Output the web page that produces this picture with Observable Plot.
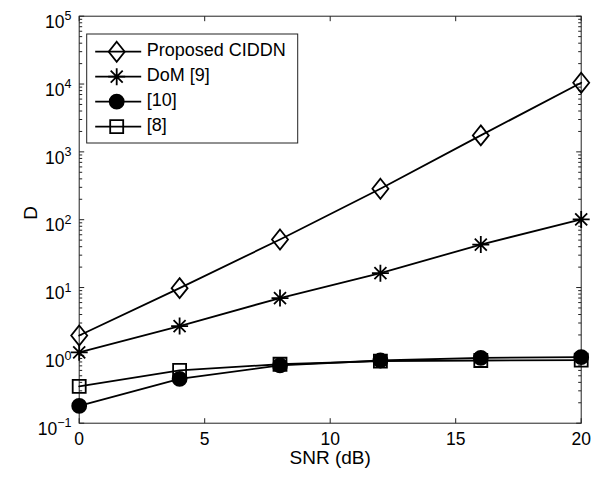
<!DOCTYPE html>
<html><head><meta charset="utf-8">
<script src="https://cdn.jsdelivr.net/npm/d3@7"></script>
<script src="https://cdn.jsdelivr.net/npm/@observablehq/plot@0.6"></script>
<style>
body{margin:0;background:#fff}
#chart svg{font-family:"Liberation Sans",Arial,Helvetica,sans-serif;background:#fff}
</style>
</head><body><div id="chart"></div>
<script>
// ---- data ----
const snr = [0, 4, 8, 12, 16, 20];
const proposed = [1.96, 9.8, 51, 286, 1750, 10450];
const dom = [1.11, 2.7, 7.0, 16.3, 43, 101];
const ref10 = [0.18, 0.45, 0.71, 0.84, 0.92, 0.94];
const ref8 = [0.35, 0.60, 0.74, 0.82, 0.84, 0.85];
const seriesNames = ["Proposed CIDDN", "DoM [9]", "[10]", "[8]"];
const xTicks = [0, 5, 10, 15, 20];
const yTickExps = [-1, 0, 1, 2, 3, 4, 5];
const minorMult = [2, 3, 4, 5, 6, 7, 8, 9];
const xLabel = "SNR (dB)";
const yLabel = "D";

// ---- symbols ----
const symDiamond = {draw(c){c.moveTo(0,-10);c.lineTo(8,0);c.lineTo(0,10);c.lineTo(-8,0);c.closePath();}};
const symStar = {draw(c){const r=8.5,d=6;c.moveTo(-r,0);c.lineTo(r,0);c.moveTo(0,-r);c.lineTo(0,r);c.moveTo(-d,-d);c.lineTo(d,d);c.moveTo(-d,d);c.lineTo(d,-d);}};
const symCircle = {draw(c){c.moveTo(7,0);c.arc(0,0,7,0,2*Math.PI);}};
const symSquare = {draw(c){c.rect(-6.5,-6.5,13,13);}};
const tickUp = {draw(c){c.moveTo(0,0);c.lineTo(0,-5);}};
const tickDown = {draw(c){c.moveTo(0,0);c.lineTo(0,5);}};
const tickR = {draw(c){c.moveTo(0,0);c.lineTo(5,0);}};
const tickL = {draw(c){c.moveTo(0,0);c.lineTo(-5,0);}};
const tickRm = {draw(c){c.moveTo(0,0);c.lineTo(3,0);}};
const tickLm = {draw(c){c.moveTo(0,0);c.lineTo(-3,0);}};

const seriesVals = [proposed, dom, ref10, ref8];
const seriesSym = [symDiamond, symStar, symCircle, symSquare];
const seriesFill = ["none", "none", "#000", "none"];

const rows = [];
seriesVals.forEach((vals, s) => snr.forEach((x, i) => rows.push({x, y: vals[i], s: seriesNames[s]})));

const yMajor = yTickExps.map(e => Math.pow(10, e));
const yMinor = [];
yTickExps.slice(0, -1).forEach(e => minorMult.forEach(m => yMinor.push(m * Math.pow(10, e))));

const axisCol = "#222";
const marks = [
  Plot.frame({stroke: axisCol, strokeWidth: 1}),
  Plot.dot(xTicks, {x: d => d, frameAnchor: "bottom", symbol: tickUp, stroke: axisCol, strokeWidth: 1}),
  Plot.dot(xTicks, {x: d => d, frameAnchor: "top", symbol: tickDown, stroke: axisCol, strokeWidth: 1}),
  Plot.dot(yMajor, {y: d => d, frameAnchor: "left", symbol: tickR, stroke: axisCol, strokeWidth: 1}),
  Plot.dot(yMajor, {y: d => d, frameAnchor: "right", symbol: tickL, stroke: axisCol, strokeWidth: 1}),
  Plot.dot(yMinor, {y: d => d, frameAnchor: "left", symbol: tickRm, stroke: axisCol, strokeWidth: 1}),
  Plot.dot(yMinor, {y: d => d, frameAnchor: "right", symbol: tickLm, stroke: axisCol, strokeWidth: 1}),
  Plot.axisX({ticks: xTicks, tickSize: 0, tickPadding: 9, fontSize: 17.5, tickFormat: d => String(d), label: null}),
  Plot.axisY({ticks: yMajor, tickSize: 0, tickPadding: 7.7, fontSize: 17.5,
    tickFormat: d => "10|" + Math.round(Math.log10(d)), label: null}),
  Plot.text([xLabel], {frameAnchor: "bottom", dy: 41.2, text: d => d, fontSize: 19, fill: "#000"}),
  Plot.text([yLabel], {frameAnchor: "left", dx: -48.7, rotate: -90, text: d => d, fontSize: 19, fill: "#000"}),
];
seriesNames.forEach((name, s) => {
  const data = rows.filter(r => r.s === name);
  marks.push(Plot.line(data, {x: "x", y: "y", stroke: "#000", strokeWidth: 1.8}));
});
[3, 2, 1, 0].forEach(s => {
  const data = rows.filter(r => r.s === seriesNames[s]);
  marks.push(Plot.dot(data, {x: "x", y: "y", symbol: seriesSym[s], stroke: "#000",
    fill: seriesFill[s], strokeWidth: 1.8}));
});

const chart = Plot.plot({
  width: 605, height: 478,
  marginLeft: 78.7, marginRight: 24.3, marginTop: 15.7, marginBottom: 55.3,
  style: {fontSize: "17.5px", color: "#000", background: "#fff"},
  x: {domain: [0, 20]},
  y: {type: "log", domain: [0.1, 1e5]},
  marks
});
document.getElementById("chart").appendChild(chart);

// superscript exponents in y tick labels
const svg = d3.select(chart);
svg.selectAll('g[aria-label="y-axis tick label"] text').each(function() {
  const t = d3.select(this);
  const [base, ex] = t.text().split("|");
  t.text(null).attr("dy", "0.35em");
  t.append("tspan").text(base);
  t.append("tspan").attr("font-size", 12.5).attr("dy", "-0.6em").text(ex.replace("-", "\u2212"));
});

// legend
const lg = svg.append("g").attr("transform", "translate(86.7,34)").attr("text-anchor", "start");
lg.append("rect").attr("width", 211).attr("height", 109).attr("fill", "#fff").attr("stroke", axisCol).attr("stroke-width", 1);
seriesNames.forEach((name, s) => {
  const y = 17.7 + s * 25;
  const g = lg.append("g").attr("transform", `translate(0,${y})`);
  g.append("line").attr("x1", 8.5).attr("x2", 54.5).attr("y1", 0).attr("y2", 0).attr("stroke", "#000").attr("stroke-width", 1.8);
  g.append("path").attr("transform", "translate(30,0)").attr("d", d3.symbol(seriesSym[s])())
    .attr("fill", seriesFill[s]).attr("stroke", "#000").attr("stroke-width", 1.8);
  g.append("text").attr("x", 60).attr("y", 4.3).attr("font-size", 18)
    .attr("text-anchor", "start").attr("fill", "#000").text(name);
});
</script>
</body></html>
